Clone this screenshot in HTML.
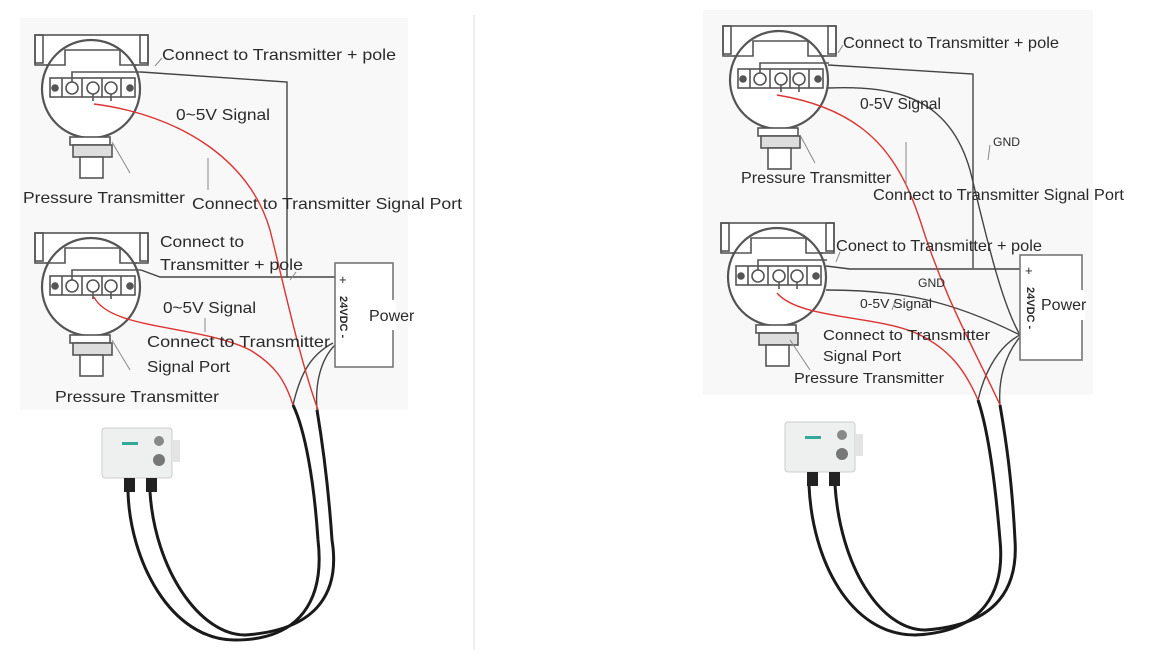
<!DOCTYPE html>
<html><head><meta charset="utf-8"><style>
html,body{margin:0;padding:0;background:#fff;}
svg{display:block;}
text{font-family:"Liberation Sans",sans-serif;fill:#2a2a2a;}
</style></head><body>
<svg width="1149" height="656" viewBox="0 0 1149 656" xmlns="http://www.w3.org/2000/svg">
<defs>
<g id="tx" fill="none" stroke="#555" stroke-width="1.6">
  <rect x="-56" y="-54" width="113" height="30" fill="#fff"/>
  <rect x="-56" y="-54" width="8" height="28"/>
  <rect x="49" y="-54" width="8" height="28"/>
  <circle cx="0" cy="0" r="49" fill="#fff" stroke-width="2.2"/>
  <path d="M-45,-24 H-26 V-39 H29 V-24 H46"/>
  <rect x="-41" y="-11" width="85" height="19"/>
  <circle cx="-19" cy="-1" r="6"/><circle cx="2" cy="-1" r="6"/><circle cx="20" cy="-1" r="6"/>
  <circle cx="-36" cy="-1" r="3" fill="#555"/><circle cx="39" cy="-1" r="3" fill="#555"/>
  <path d="M-29,-11 V8 M-9,-11 V8 M11,-11 V8 M30,-11 V8"/>
  <path d="M-19,-7 V-17 H50 M2,5 V12 M20,5 V12"/>
  <rect x="-21" y="48" width="40" height="8" fill="#fff"/>
  <rect x="-18" y="56" width="39" height="12" fill="#ddd"/>
  <rect x="-11" y="68" width="23" height="21" fill="#fff"/>
</g>
<g id="dev">
  <rect x="0" y="0" width="70" height="50" rx="3" fill="#eef0ef" stroke="#ccc"/>
  <rect x="70" y="12" width="8" height="22" fill="#e4e4e4"/>
  <circle cx="57" cy="13" r="5" fill="#888"/><circle cx="57" cy="32" r="6" fill="#777"/>
  <rect x="20" y="14" width="16" height="3" fill="#3a9"/>
  <rect x="22" y="50" width="11" height="14" fill="#222"/>
  <rect x="44" y="50" width="11" height="14" fill="#222"/>
</g>
</defs>
<rect x="20" y="18" width="388" height="392" fill="#f8f8f8"/>
<rect x="703" y="10" width="390" height="385" fill="#f8f8f8"/>
<line x1="474" y1="15" x2="474" y2="650" stroke="#ddd" stroke-width="1"/>

<!-- LEFT -->
<use href="#tx" x="91" y="89"/>
<use href="#tx" x="91" y="287"/>
<g fill="none" stroke="#444" stroke-width="1.4">
  <path d="M141,72 L287,82 V277"/>
  <path d="M141,270 L160,277 H335"/>
  <path d="M333,343 C310,355 300,375 293,405 M335,345 C320,360 315,385 317,410"/>
</g>
<g fill="none" stroke="#d33" stroke-width="1.4">
  <path d="M94,104 C180,115 250,160 270,230 C285,290 300,360 318,410"/>
  <path d="M94,297 C110,330 200,325 250,350 C275,365 285,380 293,405"/>
</g>
<g fill="none" stroke="#888" stroke-width="1">
  <path d="M155,66 L162,58 M208,158 L208,190 M112,142 L130,173 M205,318 L205,332 M112,340 L130,370 M290,280 L296,272"/>
</g>
<rect x="335" y="263" width="58" height="104" fill="#fff" stroke="#777" stroke-width="1.6"/>
<rect x="390" y="300" width="6" height="30" fill="#fff"/>
<text x="339" y="284" font-size="13">+</text>
<text transform="translate(340,296) rotate(90)" font-size="11" font-weight="bold">24VDC -</text>
<text x="369" y="321" font-size="16">Power</text>
<g fill="none" stroke="#1a1a1a" stroke-width="3">
  <path d="M128,492 C130,560 170,640 235,640 C300,640 325,600 318,540 C314,480 305,430 293,405"/>
  <path d="M150,492 C155,570 200,635 245,635 C320,630 340,590 332,540 C328,480 322,440 317,410"/>
</g>
<use href="#dev" x="102" y="428"/>
<g font-size="16" lengthAdjust="spacingAndGlyphs">
<text x="162" y="60" textLength="234" lengthAdjust="spacingAndGlyphs">Connect to Transmitter + pole</text>
<text x="176" y="120" textLength="94" lengthAdjust="spacingAndGlyphs">0~5V Signal</text>
<text x="23" y="203" textLength="162" lengthAdjust="spacingAndGlyphs">Pressure Transmitter</text>
<text x="192" y="209" textLength="270" lengthAdjust="spacingAndGlyphs">Connect to Transmitter Signal Port</text>
<text x="160" y="247" textLength="84" lengthAdjust="spacingAndGlyphs">Connect to</text>
<text x="160" y="270" textLength="143" lengthAdjust="spacingAndGlyphs">Transmitter + pole</text>
<text x="163" y="313" textLength="93" lengthAdjust="spacingAndGlyphs">0~5V Signal</text>
<text x="147" y="347" textLength="183" lengthAdjust="spacingAndGlyphs">Connect to Transmitter</text>
<text x="147" y="372" textLength="83" lengthAdjust="spacingAndGlyphs">Signal Port</text>
<text x="55" y="402" textLength="164" lengthAdjust="spacingAndGlyphs">Pressure Transmitter</text>
</g>

<!-- RIGHT -->
<use href="#tx" x="779" y="80"/>
<use href="#tx" x="777" y="277"/>
<g fill="none" stroke="#444" stroke-width="1.4">
  <path d="M828,65 L973,74 V268"/>
  <path d="M826,266 L850,269 H1020"/>
  <path d="M828,88 C900,85 950,100 970,170 C985,230 1000,300 1020,335"/>
  <path d="M826,290 C900,290 950,300 1020,335"/>
  <path d="M1020,335 C1000,345 985,370 978,400 M1020,337 C1005,355 998,380 1000,405"/>
</g>
<g fill="none" stroke="#d33" stroke-width="1.4">
  <path d="M777,95 C870,110 900,160 920,220 C945,300 975,350 1000,405"/>
  <path d="M777,293 C800,320 880,315 920,335 C950,350 965,370 978,400"/>
</g>
<g fill="none" stroke="#888" stroke-width="1">
  <path d="M838,53 L843,45 M906,142 L906,185 M990,145 L988,160 M800,135 L815,163 M896,299 L892,310 M790,340 L810,370 M836,262 L840,252"/>
</g>
<rect x="1020" y="255" width="62" height="105" fill="#fff" stroke="#777" stroke-width="1.6"/>
<rect x="1079" y="290" width="6" height="30" fill="#fff"/>
<text x="1025" y="275" font-size="13">+</text>
<text transform="translate(1027,287) rotate(90)" font-size="11" font-weight="bold">24VDC -</text>
<text x="1041" y="310" font-size="16">Power</text>
<g fill="none" stroke="#1a1a1a" stroke-width="3">
  <path d="M809,485 C812,560 850,635 915,635 C985,632 1005,590 1000,540 C995,480 988,430 978,400"/>
  <path d="M835,485 C840,565 880,630 925,630 C1000,625 1018,585 1015,540 C1012,480 1006,440 1000,405"/>
</g>
<use href="#dev" x="785" y="422"/>
<g font-size="16">
<text x="843" y="48" textLength="216" lengthAdjust="spacingAndGlyphs">Connect to Transmitter + pole</text>
<text x="860" y="109" textLength="81" lengthAdjust="spacingAndGlyphs">0-5V Signal</text>
<text x="993" y="146" font-size="12" textLength="27" lengthAdjust="spacingAndGlyphs">GND</text>
<text x="741" y="183" textLength="150" lengthAdjust="spacingAndGlyphs">Pressure Transmitter</text>
<text x="873" y="200" textLength="251" lengthAdjust="spacingAndGlyphs">Connect to Transmitter Signal Port</text>
<text x="836" y="251" textLength="206" lengthAdjust="spacingAndGlyphs">Conect to Transmitter + pole</text>
<text x="918" y="287" font-size="12" textLength="27" lengthAdjust="spacingAndGlyphs">GND</text>
<text x="860" y="308" font-size="13" textLength="72" lengthAdjust="spacingAndGlyphs">0-5V Signal</text>
<text x="823" y="340" font-size="15" textLength="167" lengthAdjust="spacingAndGlyphs">Connect to Transmitter</text>
<text x="823" y="361" font-size="15" textLength="78" lengthAdjust="spacingAndGlyphs">Signal Port</text>
<text x="794" y="383" font-size="15" textLength="150" lengthAdjust="spacingAndGlyphs">Pressure Transmitter</text>
</g>
</svg>
</body></html>
